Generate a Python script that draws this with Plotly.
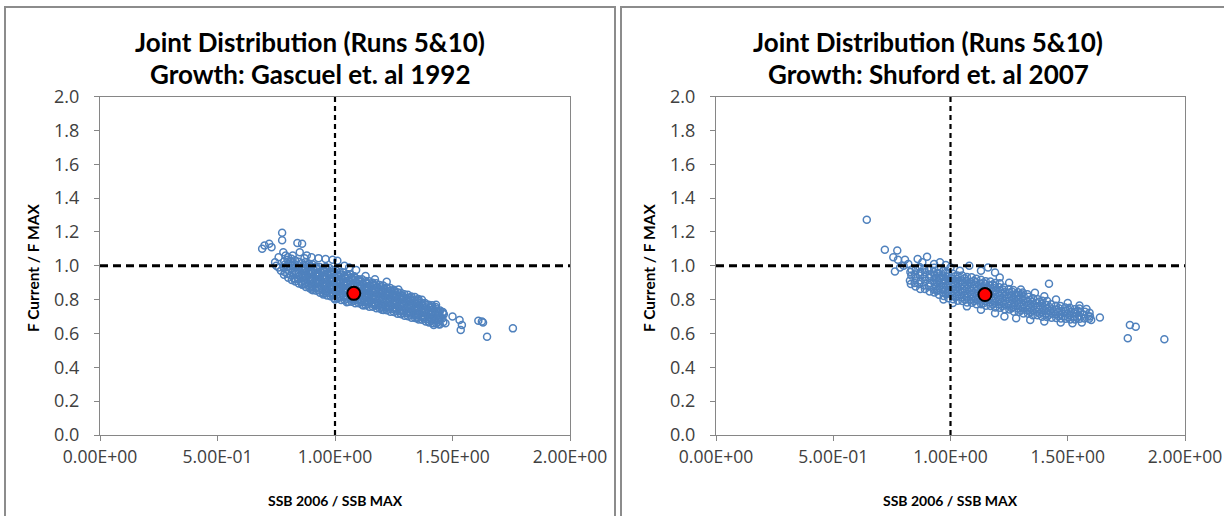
import plotly.graph_objects as go

W, H = 1224, 516

# ---------------- data ----------------
x_tick_vals = [0.0, 0.5, 1.0, 1.5, 2.0]
x_tick_text = ["0.00E+00", "5.00E-01", "1.00E+00", "1.50E+00", "2.00E+00"]
y_tick_vals = [0.0, 0.2, 0.4, 0.6, 0.8, 1.0, 1.2, 1.4, 1.6, 1.8, 2.0]

ref_ssb = 1.0   # SSB / SSB MAX reference
ref_f = 1.0     # F / F MAX reference

# Growth: Gascuel et al. 1992 -- dense body of the run cloud
gascuel_ssb_core = [
    0.783, 0.787, 0.781, 0.786, 0.784,
    0.801, 0.797, 0.803, 0.799, 0.802, 0.798,
    0.816, 0.812, 0.818, 0.814, 0.817, 0.813, 0.815,
    0.831, 0.827, 0.833, 0.829, 0.832, 0.828, 0.830,
    0.846, 0.842, 0.848, 0.844, 0.847, 0.843, 0.845,
    0.861, 0.857, 0.863, 0.859, 0.862, 0.858, 0.860,
    0.876, 0.872, 0.878, 0.874, 0.877, 0.873, 0.879, 0.875,
    0.891, 0.887, 0.893, 0.889, 0.892, 0.888, 0.894, 0.890,
    0.906, 0.902, 0.908, 0.904, 0.907, 0.903, 0.909, 0.905,
    0.921, 0.917, 0.923, 0.919, 0.922, 0.918, 0.924, 0.920,
    0.936, 0.932, 0.938, 0.934, 0.937, 0.933, 0.939, 0.935,
    0.951, 0.947, 0.953, 0.949, 0.952, 0.948, 0.954, 0.950,
    0.966, 0.962, 0.968, 0.964, 0.967, 0.963, 0.969, 0.965, 0.961,
    0.981, 0.977, 0.983, 0.979, 0.982, 0.978, 0.984, 0.980, 0.976,
    0.996, 0.992, 0.998, 0.994, 0.997, 0.993, 0.999, 0.995, 0.991,
    1.011, 1.007, 1.013, 1.009, 1.012, 1.008, 1.014, 1.010, 1.006,
    1.026, 1.022, 1.028, 1.024, 1.027, 1.023, 1.029, 1.025, 1.021,
    1.041, 1.037, 1.043, 1.039, 1.042, 1.038, 1.044, 1.040, 1.036,
    1.056, 1.052, 1.058, 1.054, 1.057, 1.053, 1.059, 1.055, 1.051,
    1.071, 1.067, 1.073, 1.069, 1.072, 1.068, 1.074, 1.070, 1.066,
    1.086, 1.082, 1.088, 1.084, 1.087, 1.083, 1.089, 1.085, 1.081,
    1.101, 1.097, 1.103, 1.099, 1.102, 1.098, 1.104, 1.100,
    1.116, 1.112, 1.118, 1.114, 1.117, 1.113, 1.119, 1.115,
    1.131, 1.127, 1.133, 1.129, 1.132, 1.128, 1.134, 1.130,
    1.146, 1.142, 1.148, 1.144, 1.147, 1.143, 1.149, 1.145,
    1.161, 1.157, 1.163, 1.159, 1.162, 1.158, 1.164, 1.160,
    1.176, 1.172, 1.178, 1.174, 1.177, 1.173, 1.179, 1.175,
    1.191, 1.187, 1.193, 1.189, 1.192, 1.188, 1.194, 1.190,
    1.206, 1.202, 1.208, 1.204, 1.207, 1.203, 1.209, 1.205,
    1.221, 1.217, 1.223, 1.219, 1.222, 1.218, 1.224, 1.220,
    1.236, 1.232, 1.238, 1.234, 1.237, 1.233, 1.239, 1.235,
    1.251, 1.247, 1.253, 1.249, 1.252, 1.248, 1.254, 1.250,
    1.266, 1.262, 1.268, 1.264, 1.267, 1.263, 1.265,
    1.281, 1.277, 1.283, 1.279, 1.282, 1.278, 1.280,
    1.296, 1.292, 1.298, 1.294, 1.297, 1.293, 1.295,
    1.311, 1.307, 1.313, 1.309, 1.312, 1.308, 1.310,
    1.326, 1.322, 1.328, 1.324, 1.327, 1.323, 1.325,
    1.341, 1.337, 1.343, 1.339, 1.342, 1.338, 1.340,
    1.356, 1.352, 1.358, 1.354, 1.357, 1.353, 1.355,
    1.371, 1.367, 1.373, 1.369, 1.372, 1.368, 1.370,
    1.386, 1.382, 1.388, 1.384, 1.387, 1.383,
    1.401, 1.397, 1.403, 1.399, 1.402, 1.398,
    1.416, 1.412, 1.418, 1.414, 1.417, 1.413,
    1.431, 1.427, 1.433, 1.429, 1.432, 1.428,
    1.446, 1.442, 1.448, 1.444, 1.447,
    1.461, 1.457, 1.463, 1.459,
    # second pass through the densest stretch
    0.871, 0.869, 0.872, 0.868, 0.870, 0.873,
    0.901, 0.898, 0.902, 0.899, 0.903, 0.900, 0.897,
    0.931, 0.928, 0.932, 0.929, 0.933, 0.930, 0.927,
    0.961, 0.958, 0.962, 0.959, 0.963, 0.960, 0.957,
    0.991, 0.988, 0.992, 0.989, 0.993, 0.990, 0.987,
    1.021, 1.018, 1.022, 1.019, 1.023, 1.020, 1.017,
    1.051, 1.048, 1.052, 1.049, 1.053, 1.050, 1.047,
    1.081, 1.078, 1.082, 1.079, 1.083, 1.080, 1.077,
    1.111, 1.108, 1.112, 1.109, 1.113, 1.110, 1.107,
    1.141, 1.138, 1.142, 1.139, 1.143, 1.140, 1.137,
    1.171, 1.168, 1.172, 1.169, 1.173, 1.170, 1.167,
    1.201, 1.198, 1.202, 1.199, 1.203, 1.200,
    1.231, 1.228, 1.232, 1.229, 1.233, 1.230,
    1.261, 1.258, 1.262, 1.259, 1.263, 1.260,
    1.291, 1.288, 1.292, 1.289, 1.293, 1.290,
    1.321, 1.318, 1.322, 1.319, 1.323, 1.320,
    1.351, 1.348, 1.352, 1.349, 1.353,
    1.381, 1.378, 1.382, 1.379, 1.383,
    1.411, 1.408, 1.412, 1.409, 1.413,
    1.441, 1.438, 1.442, 1.439,
]
gascuel_f_core = [
    0.947, 0.962, 0.991, 1.006, 1.027,
    0.929, 0.953, 0.969, 0.995, 1.013, 1.036,
    0.916, 0.942, 0.958, 0.984, 1.001, 1.024, 1.041,
    0.907, 0.926, 0.952, 0.968, 0.992, 1.010, 1.032,
    0.895, 0.920, 0.938, 0.963, 0.980, 1.005, 1.023,
    0.888, 0.905, 0.931, 0.948, 0.974, 0.991, 1.016,
    0.875, 0.900, 0.918, 0.942, 0.960, 0.985, 1.003, 1.022,
    0.868, 0.886, 0.911, 0.928, 0.953, 0.970, 0.996, 1.011,
    0.855, 0.880, 0.898, 0.923, 0.940, 0.965, 0.983, 1.008,
    0.852, 0.869, 0.894, 0.911, 0.936, 0.954, 0.979, 0.996,
    0.840, 0.865, 0.882, 0.907, 0.925, 0.950, 0.967, 0.992,
    0.837, 0.854, 0.879, 0.896, 0.922, 0.939, 0.964, 0.981,
    0.824, 0.849, 0.866, 0.891, 0.908, 0.933, 0.951, 0.977, 0.992,
    0.820, 0.838, 0.863, 0.880, 0.905, 0.922, 0.947, 0.964, 0.986,
    0.809, 0.834, 0.851, 0.876, 0.893, 0.918, 0.935, 0.960, 0.975,
    0.807, 0.824, 0.849, 0.866, 0.891, 0.908, 0.933, 0.950, 0.970,
    0.798, 0.823, 0.840, 0.865, 0.882, 0.907, 0.924, 0.949, 0.961,
    0.797, 0.815, 0.840, 0.857, 0.882, 0.899, 0.924, 0.941, 0.960,
    0.788, 0.813, 0.830, 0.855, 0.872, 0.897, 0.914, 0.939, 0.950,
    0.787, 0.805, 0.830, 0.847, 0.872, 0.889, 0.914, 0.930, 0.948,
    0.779, 0.804, 0.821, 0.846, 0.863, 0.888, 0.905, 0.929, 0.938,
    0.778, 0.795, 0.820, 0.837, 0.862, 0.879, 0.904, 0.920,
    0.769, 0.794, 0.811, 0.836, 0.853, 0.878, 0.895, 0.920,
    0.767, 0.784, 0.809, 0.826, 0.851, 0.868, 0.893, 0.910,
    0.758, 0.783, 0.800, 0.825, 0.842, 0.867, 0.884, 0.908,
    0.758, 0.775, 0.800, 0.817, 0.842, 0.859, 0.884, 0.899,
    0.749, 0.774, 0.791, 0.816, 0.833, 0.858, 0.875, 0.897,
    0.748, 0.765, 0.790, 0.807, 0.832, 0.849, 0.873, 0.886,
    0.739, 0.764, 0.781, 0.806, 0.823, 0.848, 0.864, 0.883,
    0.737, 0.754, 0.779, 0.796, 0.821, 0.838, 0.862, 0.872,
    0.728, 0.753, 0.770, 0.795, 0.812, 0.837, 0.853, 0.869,
    0.727, 0.744, 0.769, 0.786, 0.811, 0.828, 0.851, 0.858,
    0.717, 0.742, 0.759, 0.784, 0.801, 0.826, 0.843,
    0.715, 0.732, 0.757, 0.774, 0.799, 0.816, 0.841,
    0.705, 0.730, 0.747, 0.772, 0.789, 0.814, 0.831,
    0.702, 0.719, 0.744, 0.761, 0.786, 0.803, 0.828,
    0.693, 0.718, 0.735, 0.760, 0.777, 0.802, 0.818,
    0.692, 0.709, 0.734, 0.751, 0.776, 0.793, 0.815,
    0.683, 0.708, 0.725, 0.750, 0.767, 0.792, 0.803,
    0.681, 0.698, 0.723, 0.740, 0.765, 0.782, 0.799,
    0.671, 0.696, 0.713, 0.738, 0.755, 0.780,
    0.669, 0.686, 0.711, 0.728, 0.753, 0.770,
    0.660, 0.685, 0.702, 0.727, 0.744, 0.767,
    0.659, 0.676, 0.701, 0.718, 0.743, 0.756,
    0.653, 0.678, 0.695, 0.720, 0.736,
    0.667, 0.688, 0.714, 0.726,
    # second pass through the densest stretch
    0.891, 0.913, 0.932, 0.955, 0.974, 0.997,
    0.871, 0.890, 0.913, 0.932, 0.955, 0.974, 0.997,
    0.856, 0.875, 0.898, 0.917, 0.940, 0.959, 0.982,
    0.841, 0.860, 0.883, 0.902, 0.925, 0.944, 0.967,
    0.826, 0.845, 0.868, 0.887, 0.910, 0.929, 0.952,
    0.815, 0.834, 0.857, 0.876, 0.899, 0.918, 0.941,
    0.805, 0.824, 0.847, 0.866, 0.889, 0.908, 0.931,
    0.795, 0.814, 0.837, 0.856, 0.879, 0.898, 0.921,
    0.786, 0.805, 0.828, 0.847, 0.870, 0.889, 0.909,
    0.776, 0.795, 0.818, 0.837, 0.860, 0.879, 0.899,
    0.766, 0.785, 0.808, 0.827, 0.850, 0.869, 0.887,
    0.756, 0.775, 0.798, 0.817, 0.840, 0.859,
    0.746, 0.765, 0.788, 0.807, 0.830, 0.849,
    0.734, 0.753, 0.776, 0.795, 0.818, 0.837,
    0.721, 0.740, 0.763, 0.782, 0.805, 0.821,
    0.711, 0.730, 0.753, 0.772, 0.795, 0.811,
    0.699, 0.718, 0.741, 0.760, 0.781,
    0.689, 0.708, 0.731, 0.750, 0.771,
    0.677, 0.696, 0.719, 0.738, 0.757,
    0.669, 0.688, 0.711, 0.729,
]
# Gascuel runs lying away from the body of the cloud
gascuel_ssb_edge = [
    0.690, 0.700, 0.720, 0.730, 0.745, 0.760, 0.775, 0.775, 0.780, 0.790,
    0.840, 0.860, 0.850, 0.880, 0.900, 0.930, 0.960, 0.990, 1.010, 1.040,
    1.060, 1.090, 1.130, 1.170, 1.220, 1.270, 1.350, 1.430, 1.460, 1.470,
    1.500, 1.530, 1.535, 1.540, 1.610, 1.630, 1.625, 1.647, 1.757, 0.830,
    0.860, 0.900, 0.950, 1.000, 1.050, 1.120, 1.200, 1.280, 1.350, 1.400,
    1.440, 1.420, 0.800, 0.820, 0.870, 0.760, 0.770, 0.750,
]
gascuel_f_edge = [
    1.100, 1.120, 1.130, 1.110, 1.020, 1.050, 1.195, 1.150, 1.080, 1.060,
    1.135, 1.130, 1.080, 1.060, 1.050, 1.045, 1.040, 1.035, 1.030, 1.000,
    0.990, 0.975, 0.940, 0.920, 0.905, 0.860, 0.800, 0.770, 0.720, 0.660,
    0.700, 0.680, 0.620, 0.650, 0.675, 0.665, 0.670, 0.580, 0.630, 0.920,
    0.890, 0.860, 0.830, 0.800, 0.785, 0.765, 0.740, 0.715, 0.690, 0.665,
    0.655, 0.650, 1.050, 1.060, 1.045, 0.990, 0.970, 1.000,
]
gascuel_point = (1.08, 0.837)

# Growth: Shuford et al. 2007 -- dense body of the run cloud
shuford_ssb_core = [
    0.831, 0.827, 0.833, 0.829,
    0.851, 0.847, 0.853, 0.849, 0.852,
    0.871, 0.867, 0.873, 0.869, 0.872, 0.868,
    0.891, 0.887, 0.893, 0.889, 0.892, 0.888,
    0.911, 0.907, 0.913, 0.909, 0.912, 0.908,
    0.931, 0.927, 0.933, 0.929, 0.932, 0.928, 0.930,
    0.951, 0.947, 0.953, 0.949, 0.952, 0.948, 0.950,
    0.971, 0.967, 0.973, 0.969, 0.972, 0.968, 0.970,
    0.991, 0.987, 0.993, 0.989, 0.992, 0.988, 0.990,
    1.011, 1.007, 1.013, 1.009, 1.012, 1.008, 1.010,
    1.031, 1.027, 1.033, 1.029, 1.032, 1.028, 1.030,
    1.051, 1.047, 1.053, 1.049, 1.052, 1.048, 1.050,
    1.071, 1.067, 1.073, 1.069, 1.072, 1.068, 1.070,
    1.091, 1.087, 1.093, 1.089, 1.092, 1.088, 1.090,
    1.111, 1.107, 1.113, 1.109, 1.112, 1.108, 1.110,
    1.131, 1.127, 1.133, 1.129, 1.132, 1.128, 1.130,
    1.151, 1.147, 1.153, 1.149, 1.152, 1.148, 1.150,
    1.171, 1.167, 1.173, 1.169, 1.172, 1.168, 1.170,
    1.191, 1.187, 1.193, 1.189, 1.192, 1.188, 1.190,
    1.211, 1.207, 1.213, 1.209, 1.212, 1.208, 1.210,
    1.231, 1.227, 1.233, 1.229, 1.232, 1.228,
    1.251, 1.247, 1.253, 1.249, 1.252, 1.248,
    1.271, 1.267, 1.273, 1.269, 1.272, 1.268,
    1.291, 1.287, 1.293, 1.289, 1.292, 1.288,
    1.311, 1.307, 1.313, 1.309, 1.312, 1.308,
    1.331, 1.327, 1.333, 1.329, 1.332, 1.328,
    1.351, 1.347, 1.353, 1.349, 1.352,
    1.371, 1.367, 1.373, 1.369, 1.372,
    1.391, 1.387, 1.393, 1.389, 1.392,
    1.411, 1.407, 1.413, 1.409, 1.412,
    1.431, 1.427, 1.433, 1.429,
    1.451, 1.447, 1.453, 1.449,
    1.471, 1.467, 1.473, 1.469,
    1.491, 1.487, 1.493, 1.489,
    1.511, 1.507, 1.513, 1.509,
    1.531, 1.527, 1.533, 1.529,
    1.551, 1.547, 1.553, 1.549,
    1.571, 1.567, 1.573,
    1.591, 1.587, 1.593,
    # second pass through the densest stretch
    0.941, 0.938, 0.942, 0.939, 0.943,
    0.981, 0.978, 0.982, 0.979, 0.983, 0.980,
    1.021, 1.018, 1.022, 1.019, 1.023, 1.020,
    1.061, 1.058, 1.062, 1.059, 1.063, 1.060,
    1.101, 1.098, 1.102, 1.099, 1.103, 1.100,
    1.141, 1.138, 1.142, 1.139, 1.143, 1.140,
    1.181, 1.178, 1.182, 1.179, 1.183, 1.180,
    1.221, 1.218, 1.222, 1.219, 1.223,
    1.261, 1.258, 1.262, 1.259, 1.263,
    1.301, 1.298, 1.302, 1.299, 1.303,
    1.341, 1.338, 1.342, 1.339,
    1.381, 1.378, 1.382, 1.379,
    1.421, 1.418, 1.422,
    1.461, 1.458, 1.462,
    1.501, 1.498, 1.502,
    1.541, 1.538, 1.542,
]
shuford_f_core = [
    0.892, 0.913, 0.942, 0.963,
    0.877, 0.898, 0.927, 0.948, 0.977,
    0.863, 0.892, 0.913, 0.942, 0.963, 0.992,
    0.862, 0.883, 0.912, 0.933, 0.962, 0.983,
    0.848, 0.877, 0.898, 0.927, 0.948, 0.977,
    0.842, 0.863, 0.892, 0.913, 0.942, 0.963, 0.988,
    0.828, 0.857, 0.878, 0.907, 0.928, 0.957, 0.978,
    0.822, 0.843, 0.872, 0.893, 0.922, 0.943, 0.972,
    0.808, 0.837, 0.858, 0.887, 0.908, 0.937, 0.958,
    0.802, 0.823, 0.852, 0.873, 0.902, 0.923, 0.952,
    0.793, 0.822, 0.843, 0.872, 0.893, 0.922, 0.943,
    0.792, 0.813, 0.842, 0.863, 0.892, 0.913, 0.942,
    0.783, 0.812, 0.833, 0.862, 0.883, 0.912, 0.933,
    0.782, 0.803, 0.832, 0.853, 0.882, 0.903, 0.932,
    0.773, 0.802, 0.823, 0.852, 0.873, 0.902, 0.923,
    0.772, 0.793, 0.822, 0.843, 0.872, 0.893, 0.917,
    0.763, 0.792, 0.813, 0.842, 0.863, 0.892, 0.908,
    0.762, 0.783, 0.812, 0.833, 0.862, 0.883, 0.907,
    0.753, 0.782, 0.803, 0.832, 0.853, 0.882, 0.898,
    0.752, 0.773, 0.802, 0.823, 0.852, 0.873, 0.897,
    0.743, 0.772, 0.793, 0.822, 0.843, 0.872,
    0.742, 0.763, 0.792, 0.813, 0.842, 0.863,
    0.728, 0.757, 0.778, 0.807, 0.828, 0.857,
    0.727, 0.748, 0.777, 0.798, 0.827, 0.843,
    0.718, 0.747, 0.768, 0.797, 0.818, 0.842,
    0.717, 0.738, 0.767, 0.788, 0.817, 0.832,
    0.708, 0.737, 0.758, 0.787, 0.808,
    0.707, 0.728, 0.757, 0.778, 0.802,
    0.698, 0.727, 0.748, 0.777, 0.793,
    0.697, 0.718, 0.747, 0.768, 0.792,
    0.693, 0.722, 0.743, 0.772,
    0.692, 0.713, 0.742, 0.763,
    0.688, 0.712, 0.733, 0.762,
    0.687, 0.703, 0.732, 0.753,
    0.683, 0.707, 0.728, 0.752,
    0.682, 0.698, 0.727, 0.743,
    0.687, 0.703, 0.727, 0.747,
    0.688, 0.712, 0.728,
    0.687, 0.703, 0.722,
    # second pass through the densest stretch
    0.851, 0.877, 0.902, 0.929, 0.953,
    0.831, 0.857, 0.882, 0.909, 0.933, 0.957,
    0.814, 0.839, 0.862, 0.889, 0.912, 0.938,
    0.801, 0.827, 0.852, 0.879, 0.902, 0.926,
    0.791, 0.816, 0.839, 0.866, 0.889, 0.911,
    0.779, 0.806, 0.829, 0.856, 0.879, 0.899,
    0.771, 0.796, 0.819, 0.846, 0.869, 0.889,
    0.761, 0.786, 0.809, 0.836, 0.859,
    0.749, 0.772, 0.799, 0.822, 0.847,
    0.736, 0.761, 0.784, 0.811, 0.831,
    0.726, 0.751, 0.774, 0.799,
    0.716, 0.741, 0.764, 0.789,
    0.711, 0.733, 0.756,
    0.701, 0.726, 0.749,
    0.696, 0.717, 0.741,
    0.693, 0.716, 0.736,
]
# Shuford runs lying away from the body of the cloud
shuford_ssb_edge = [
    0.643, 0.720, 0.773, 0.756, 0.776, 0.806, 0.860, 0.900, 0.955, 0.763,
    0.785, 0.834, 0.800, 0.820, 0.880, 0.930, 0.980, 1.000, 1.040, 1.080,
    1.130, 1.160, 1.190, 1.210, 1.250, 1.300, 1.360, 1.420, 1.400, 1.450,
    1.500, 1.550, 1.580, 1.595, 1.600, 1.637, 1.560, 1.520, 1.470, 1.400,
    1.340, 1.280, 1.230, 1.190, 1.130, 1.070, 1.010, 0.970, 1.765, 1.790,
    1.756, 1.912,
]
shuford_f_edge = [
    1.272, 1.095, 1.090, 1.050, 1.035, 1.035, 1.040, 1.053, 1.020, 0.966,
    0.990, 0.976, 1.000, 1.010, 1.020, 1.010, 1.005, 0.990, 0.970, 1.000,
    0.970, 0.990, 0.960, 0.930, 0.900, 0.860, 0.840, 0.893, 0.820, 0.800,
    0.780, 0.765, 0.745, 0.700, 0.680, 0.694, 0.665, 0.660, 0.665, 0.670,
    0.680, 0.690, 0.700, 0.720, 0.740, 0.760, 0.780, 0.800, 0.650, 0.640,
    0.572, 0.566,
]
shuford_point = (1.147, 0.83)

panels = [
    dict(title2="Growth: Gascuel et. al 1992",
         ssb=gascuel_ssb_core + gascuel_ssb_edge,
         f=gascuel_f_core + gascuel_f_edge,
         point=gascuel_point),
    dict(title2="Growth: Shuford et. al 2007",
         ssb=shuford_ssb_core + shuford_ssb_edge,
         f=shuford_f_core + shuford_f_edge,
         point=shuford_point),
]
for p in panels:
    assert len(p["ssb"]) == len(p["f"])

# ---------------- geometry (pixels) ----------------
def px_x(v):
    return v / W

def px_y(v):
    return 1 - v / H

plot_left = [100, 716]
plot_right = [570, 1185]
plot_top, plot_bottom = 96.5, 435
frame_left = [5, 621]
frame_right = [615, 1235]
frame_top = 7

BLUE = "#4F81BD"
GRAY = "#868686"
TXT = "#404040"
TITLE_FONT = "Lato, Carlito, sans-serif"
TICK_FONT = "'Open Sans', sans-serif"

fig = go.Figure()
layout = dict(
    template="none",
    width=W, height=H,
    margin=dict(l=0, r=0, t=0, b=0, pad=0, autoexpand=False),
    paper_bgcolor="white", plot_bgcolor="white",
    showlegend=False,
    font=dict(family=TITLE_FONT, color=TXT),
    shapes=[], annotations=[],
)

for i, p in enumerate(panels):
    xa = "x" if i == 0 else "x2"
    ya = "y" if i == 0 else "y2"
    xkey = "xaxis" if i == 0 else "xaxis2"
    ykey = "yaxis" if i == 0 else "yaxis2"

    fig.add_trace(go.Scatter(
        x=p["ssb"], y=p["f"], mode="markers", xaxis=xa, yaxis=ya,
        marker=dict(symbol="circle-open", size=7, color=BLUE,
                    line=dict(width=1.5, color=BLUE)),
        hoverinfo="skip",
    ))
    # reference lines at SSB/SSBmax = 1 and F/Fmax = 1
    fig.add_trace(go.Scatter(
        x=[0, 2], y=[ref_f, ref_f], mode="lines", xaxis=xa, yaxis=ya,
        line=dict(color="black", width=3, dash="8px,5px"), hoverinfo="skip",
    ))
    fig.add_trace(go.Scatter(
        x=[ref_ssb, ref_ssb], y=[0, 2], mode="lines", xaxis=xa, yaxis=ya,
        line=dict(color="black", width=2.2, dash="5px,4px"), hoverinfo="skip",
    ))
    fig.add_trace(go.Scatter(
        x=[p["point"][0]], y=[p["point"][1]], mode="markers", xaxis=xa, yaxis=ya,
        marker=dict(symbol="circle", size=13, color="#FF0000",
                    line=dict(width=2, color="black")),
        hoverinfo="skip",
    ))

    layout[xkey] = dict(
        domain=[px_x(plot_left[i]), px_x(plot_right[i])],
        range=[0, 2], anchor=ya, tickvals=x_tick_vals, ticktext=x_tick_text,
        showgrid=False, zeroline=False, showline=True, linecolor=GRAY,
        linewidth=1, mirror=True, ticks="outside", ticklen=5, tickcolor=GRAY,
        tickfont=dict(size=17.5, color=TXT, family=TICK_FONT),
        automargin=False, ticklabelstandoff=1,
    )
    layout[ykey] = dict(
        domain=[px_y(plot_bottom), px_y(plot_top)],
        range=[0, 2], anchor=xa, tickvals=y_tick_vals, tickformat=".1f",
        showgrid=False, zeroline=False, showline=True, linecolor=GRAY,
        linewidth=1, mirror=True, ticks="outside", ticklen=5, tickcolor=GRAY,
        tickfont=dict(size=18, color=TXT, family=TICK_FONT),
        automargin=False, ticklabelstandoff=11,
    )

    # panel frame
    layout["shapes"].append(dict(
        type="rect", xref="paper", yref="paper",
        x0=px_x(frame_left[i]), x1=px_x(frame_right[i]),
        y0=px_y(H + 10), y1=px_y(frame_top),
        line=dict(color="#8c8c8c", width=2), fillcolor="rgba(0,0,0,0)",
        layer="below",
    ))

    cx = (frame_left[i] + frame_right[i]) / 2
    layout["annotations"] += [
        dict(text="<b>Joint Distribution (Runs 5&10)</b>", x=px_x(cx), y=px_y(42),
             xref="paper", yref="paper", showarrow=False,
             xanchor="center", yanchor="middle",
             font=dict(size=26, color="black", family=TITLE_FONT)),
        dict(text="<b>" + p["title2"] + "</b>", x=px_x(cx), y=px_y(74),
             xref="paper", yref="paper", showarrow=False,
             xanchor="center", yanchor="middle",
             font=dict(size=26, color="black", family=TITLE_FONT)),
        dict(text="<b>SSB 2006 / SSB MAX</b>",
             x=px_x((plot_left[i] + plot_right[i]) / 2), y=px_y(500),
             xref="paper", yref="paper", showarrow=False,
             xanchor="center", yanchor="middle",
             font=dict(size=14, color="black", family=TITLE_FONT)),
        dict(text="<b>F Current / F MAX</b>",
             x=px_x(plot_left[i] - 67), y=px_y(268),
             xref="paper", yref="paper", showarrow=False, textangle=-90,
             xanchor="center", yanchor="middle",
             font=dict(size=15.5, color="black", family=TITLE_FONT)),
    ]

fig.update_layout(**layout)
fig.write_html("out.html")
